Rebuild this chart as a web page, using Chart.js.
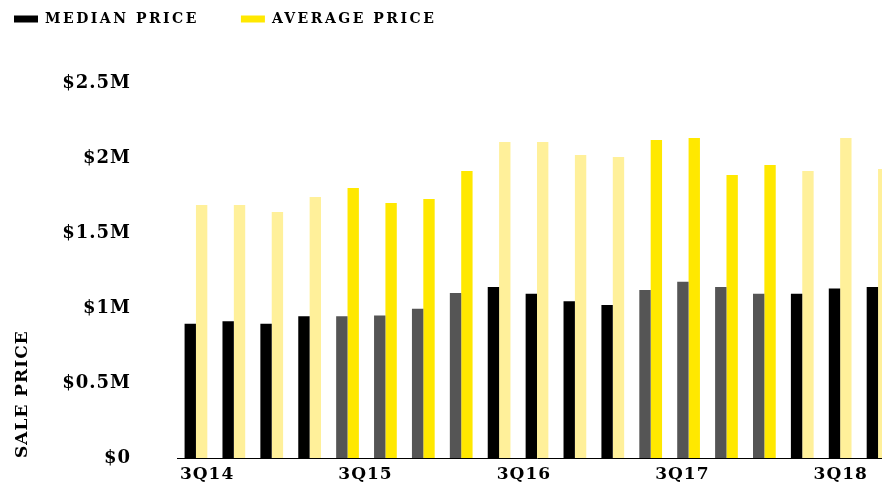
<!DOCTYPE html>
<html>
<head>
<meta charset="utf-8">
<script src="https://cdn.jsdelivr.net/npm/chart.js@4.4.1/dist/chart.umd.min.js"></script>
<style>
	html, body { margin: 0; padding: 0; background: #fff; overflow: hidden; }
	#wrap { width: 900px; height: 485px; }
</style>
</head>
<body>
<div id="wrap"><canvas id="priceChart" width="900" height="485"></canvas></div>
<script>
const quarters = ['3Q14', '4Q14', '1Q15', '2Q15', '3Q15', '4Q15', '1Q16', '2Q16', '3Q16', '4Q16',
	'1Q17', '2Q17', '3Q17', '4Q17', '1Q18', '2Q18', '3Q18', '4Q18', '1Q19'];
const medianPrice = [895000, 912000, 895000, 945000, 945000, 950000, 995000, 1100000, 1140000, 1095000,
	1045000, 1020000, 1120000, 1175000, 1140000, 1095000, 1095000, 1130000, 1140000];
const averagePrice = [1687000, 1687000, 1640000, 1740000, 1800000, 1700000, 1727000, 1913000, 2107000, 2107000,
	2020000, 2007000, 2120000, 2133000, 1887000, 1953000, 1913000, 2133000, 1927000];
const yTicks = [0, 500000, 1000000, 1500000, 2000000, 2500000];
const labelEvery = 4;

const BLACK = '#000000';
const GREY = '#555555';
const YELLOW = '#ffe800';
const PALE = '#fff09a';

Chart.defaults.font.family = "'DejaVu Serif', serif";
Chart.defaults.font.weight = 'bold';
Chart.defaults.color = '#000';

// alternate shading every four quarters
const oddYear = (c) => c.dataIndex !== undefined && Math.floor(c.dataIndex / 4) % 2 === 1;

const spacing = {
	id: 'spacing',
	beforeLayout(chart) {
		chart.ctx.letterSpacing = '1px';
	},
	afterLayout(chart) {
		// legend sits tight at the top-left, items spread apart
		const legend = chart.legend;
		const pad = chart.options.plugins.legend.labels.padding;
		legend.left = 14 - pad;
		legend.top = 12 - pad;
		if (!legend._spaced) {
			const draw = legend.draw;
			legend.draw = function () {
				const prev = this.ctx.letterSpacing;
				this.ctx.letterSpacing = '2.5px';
				draw.apply(this, arguments);
				this.ctx.letterSpacing = prev;
			};
			legend._spaced = true;
		}
	},
	beforeDraw(chart) {
		chart.ctx.letterSpacing = '1px';
	}
};

const money = (v) => v === 0 ? '$0' : '$' + (v / 1000000) + 'M';

const config = {
	type: 'bar',
	data: {
		labels: quarters,
		datasets: [{
			label: 'MEDIAN PRICE',
			data: medianPrice,
			backgroundColor: (c) => oddYear(c) ? GREY : BLACK,
			borderWidth: 0
		}, {
			label: 'AVERAGE PRICE',
			data: averagePrice,
			backgroundColor: (c) => oddYear(c) ? YELLOW : PALE,
			borderWidth: 0
		}]
	},
	options: {
		responsive: false,
		animation: false,
		layout: {padding: {top: 17, right: 3, left: 0, bottom: 0}},
		categoryPercentage: 0.6,
		barPercentage: 1,
		plugins: {
			tooltip: {enabled: false},
			legend: {
				position: 'top',
				align: 'start',
				labels: {
					boxWidth: 24,
					boxHeight: 7,
					padding: 42,
					font: {size: 14, weight: 'bold'},
					generateLabels(chart) {
						const items = Chart.defaults.plugins.legend.labels.generateLabels(chart);
						items.forEach((item, i) => { item.fillStyle = [BLACK, YELLOW][i]; });
						return items;
					}
				}
			}
		},
		scales: {
			x: {
				grid: {display: false, drawTicks: false},
				border: {display: true, color: '#000', width: 1},
				ticks: {display: false},
				afterFit(scale) { scale.height = 0; }
			},
			quarterLabels: {
				type: 'linear',
				position: 'bottom',
				offset: false,
				min: -0.76,
				max: 17.42,
				grid: {display: false, drawTicks: false},
				border: {display: false},
				ticks: {
					padding: 6,
					maxRotation: 0,
					autoSkip: false,
					font: {size: 17},
					callback: (v) => quarters[v]
				},
				afterBuildTicks(scale) {
					scale.ticks = quarters.map((q, i) => i).filter(i => i % labelEvery === 0).map(i => ({value: i}));
				},
				afterFit(scale) { scale.height = 27; }
			},
			y: {
				min: 0,
				max: 2500000,
				grid: {display: false, drawTicks: false},
				border: {display: false},
				afterBuildTicks(scale) {
					scale.ticks = yTicks.map(v => ({value: v}));
				},
				ticks: {
					padding: 46,
					font: {size: 18},
					callback: money
				},
				title: {
					display: true,
					text: 'SALE PRICE',
					align: 'start',
					padding: {top: 12, bottom: 0},
					font: {size: 17, weight: 'bold'}
				},
				afterFit(scale) {
					scale.width = 177;
					scale.paddingTop = 10;
					scale.paddingBottom = 10;
				}
			}
		}
	},
	plugins: [spacing]
};

new Chart(document.getElementById('priceChart'), config);
</script>
</body>
</html>
